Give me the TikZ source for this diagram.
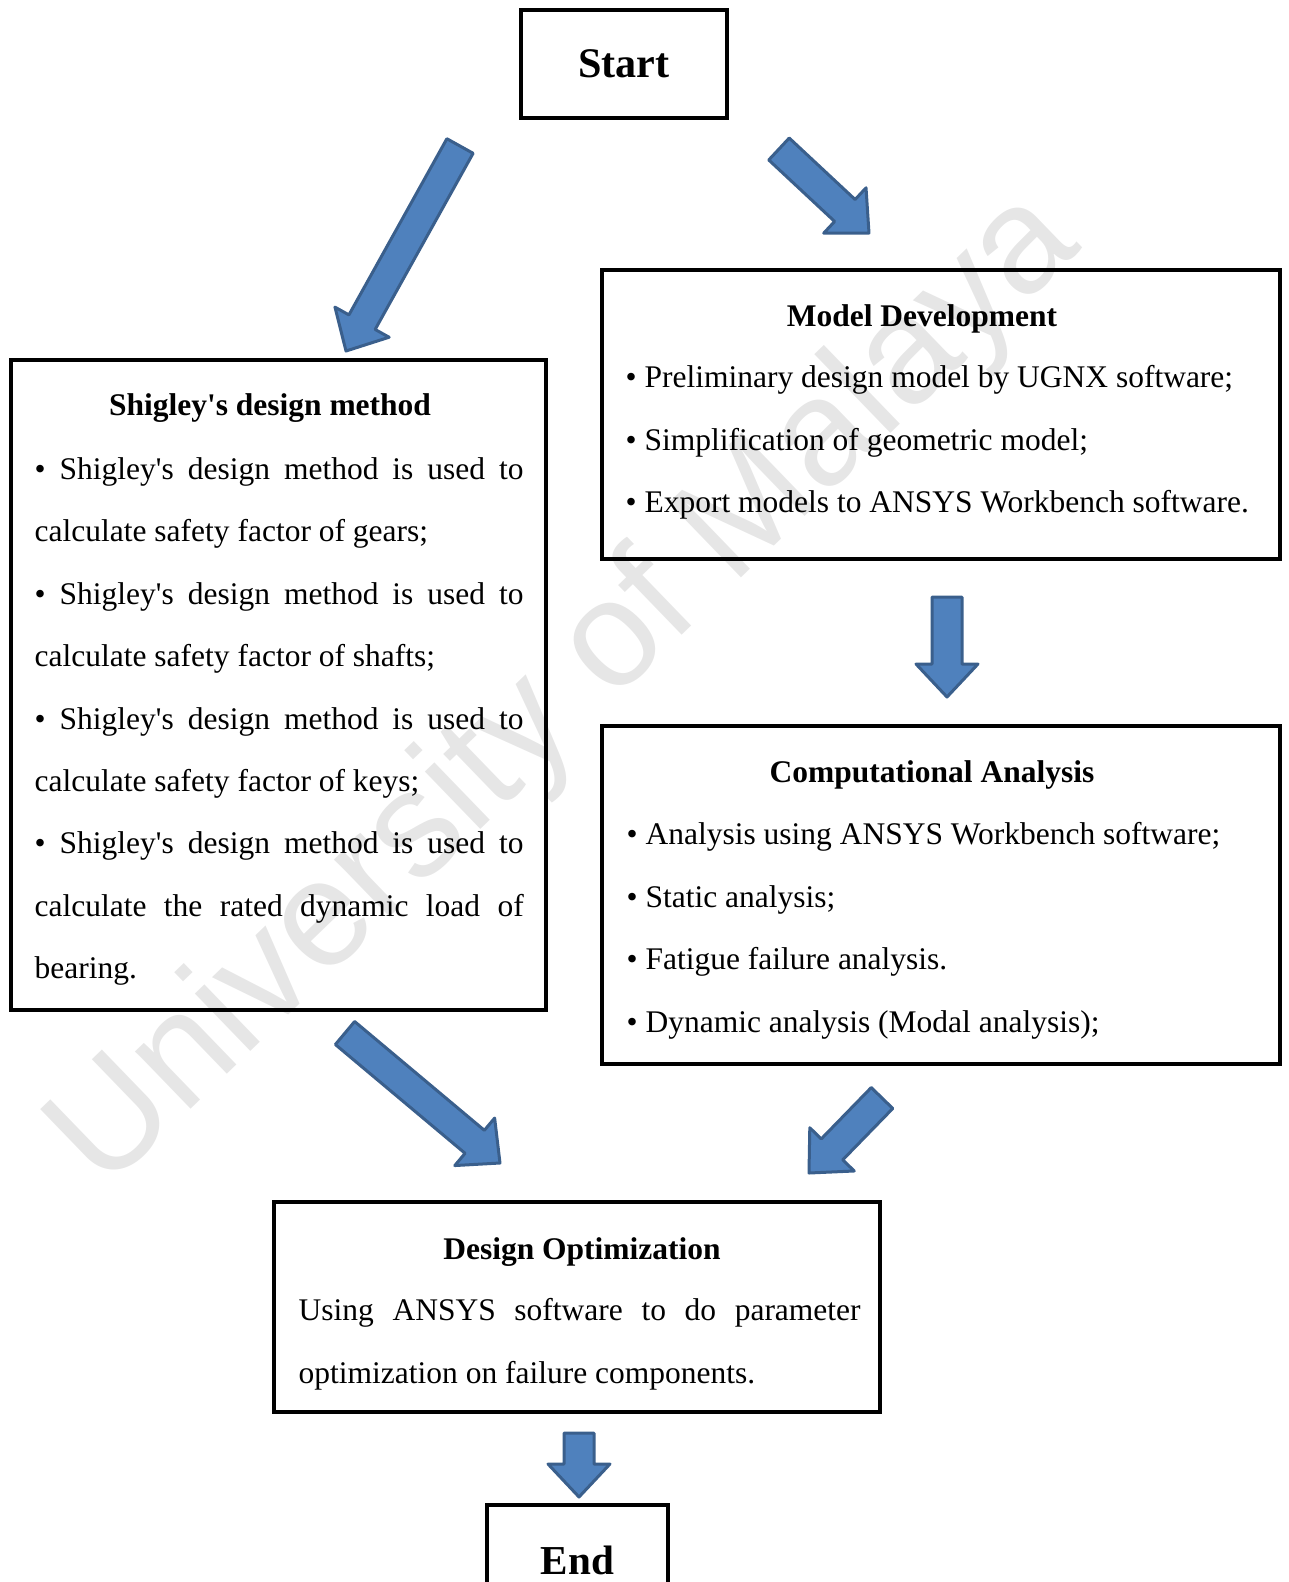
\documentclass[tikz,border=0pt]{standalone}
\usepackage{fontspec}
\setmainfont{Liberation Serif}
\newfontfamily\wmfont{Liberation Sans}
\usepackage{xcolor}
\usepackage{tikz}
\usetikzlibrary{calc, positioning}

\definecolor{arrowfill}{HTML}{4F81BD}
\definecolor{arrowline}{HTML}{3A5F8C}
\definecolor{wmgray}{HTML}{E6E6E6}

\newcommand{\bodyfont}{\fontsize{8.96pt}{17.75pt}\selectfont}
\newcommand{\shig}{Shigley\textquotesingle s}

% block arrow from tail #1 to tip #2
\newcommand{\blockarrow}[2]{%
	\coordinate (hb) at ($(#2)!3.3mm!(#1)$);
	\draw[blockarr] ($(#1)!1.5mm!90:(#2)$) -- ($(hb)!1.5mm!-90:(#1)$)
	-- ($(hb)!3.1mm!-90:(#1)$) -- (#2) -- ($(hb)!3.1mm!90:(#1)$)
	-- ($(hb)!1.5mm!90:(#1)$) -- ($(#1)!1.5mm!-90:(#2)$) -- cycle;}

\begin{document}
\begin{tikzpicture}[x=0.1mm, y=-0.1mm,
	box/.style={draw, line width=0.4mm, inner sep=0pt},
	title/.style={anchor=base, font=\bodyfont\bfseries, inner sep=0pt},
	body/.style={anchor=north west, font=\bodyfont, inner sep=0pt},
	blockarr/.style={fill=arrowfill, draw=arrowline, line width=0.3mm, line join=round},
	wm/.style={text=wmgray, font=\wmfont\fontsize{43pt}{48pt}\selectfont}]
	
	% Page
	\path[use as bounding box, clip] (0,0) rectangle (1289,1582);
	
	% Watermark
	\node[wm, rotate=44] (watermark) at (567,692) {University of Malaya};
	
	% Boxes
	\node[box, minimum width=20.6mm, minimum height=10.8mm,
		font=\fontsize{12pt}{14pt}\selectfont\bfseries] (start) at (624,64) {Start};
	\node[box, minimum width=67.8mm, minimum height=28.9mm] (model) at (941,414.5) {};
	\node[box, minimum width=53.5mm, minimum height=65mm] (shigley) at (278.5,685) {};
	\node[box, minimum width=67.8mm, minimum height=33.8mm] (comp) at (941,895) {};
	\node[box, minimum width=60.6mm, minimum height=21mm] (optim) at (577,1307) {};
	\node[box, minimum width=18.1mm, minimum height=11mm,
		font=\fontsize{11.7pt}{14pt}\selectfont\bfseries] (finish) at (577.5,1560) {End};
	
	% Shigley's design method
	\node[title] (shigleyT) at (270,415) {\shig{} design method};
	\node[body, text width=48.9mm, align=justify] (shigleyB) at (34,457)
		{• \shig{} design method is used to\linebreak calculate safety factor of gears;\\
		 • \shig{} design method is used to\linebreak calculate safety factor of shafts;\\
		 • \shig{} design method is used to\linebreak calculate safety factor of keys;\\
		 • \shig{} design method is used to\linebreak calculate the rated dynamic load of\linebreak bearing.};
	
	% Model Development
	\node[title] (modelT) at (922,326) {Model Development};
	\node[body, align=left] (modelB) at (625,365)
		{• Preliminary design model by UGNX software;\\
		 • Simplification of geometric model;\\
		 • Export models to ANSYS Workbench software.};
	
	% Computational Analysis
	\node[title] (compT) at (932,782) {Computational Analysis};
	\node[body, align=left] (compB) at (626,822)
		{• Analysis using ANSYS Workbench software;\\
		 • Static analysis;\\
		 • Fatigue failure analysis.\\
		 • Dynamic analysis (Modal analysis);};
	
	% Design Optimization
	\node[title] (optimT) at (582,1259) {Design Optimization};
	\node[body, text width=56.2mm, align=justify] (optimB) at (298,1298)
		{Using ANSYS software to do parameter\linebreak optimization on failure components.};
	
	% Arrows
	\coordinate (a1s) at (460,146);  \coordinate (a1e) at (346,351);
	\coordinate (a2s) at (779,149);  \coordinate (a2e) at (869,233);
	\coordinate (a3s) at (947,597);  \coordinate (a3e) at (947,697);
	\coordinate (a4s) at (345,1033); \coordinate (a4e) at (500,1163);
	\coordinate (a5s) at (882,1098); \coordinate (a5e) at (809,1173);
	\coordinate (a6s) at (579,1433); \coordinate (a6e) at (579,1497);
	\blockarrow{a1s}{a1e}
	\blockarrow{a2s}{a2e}
	\blockarrow{a3s}{a3e}
	\blockarrow{a4s}{a4e}
	\blockarrow{a5s}{a5e}
	\blockarrow{a6s}{a6e}
\end{tikzpicture}
\end{document}
